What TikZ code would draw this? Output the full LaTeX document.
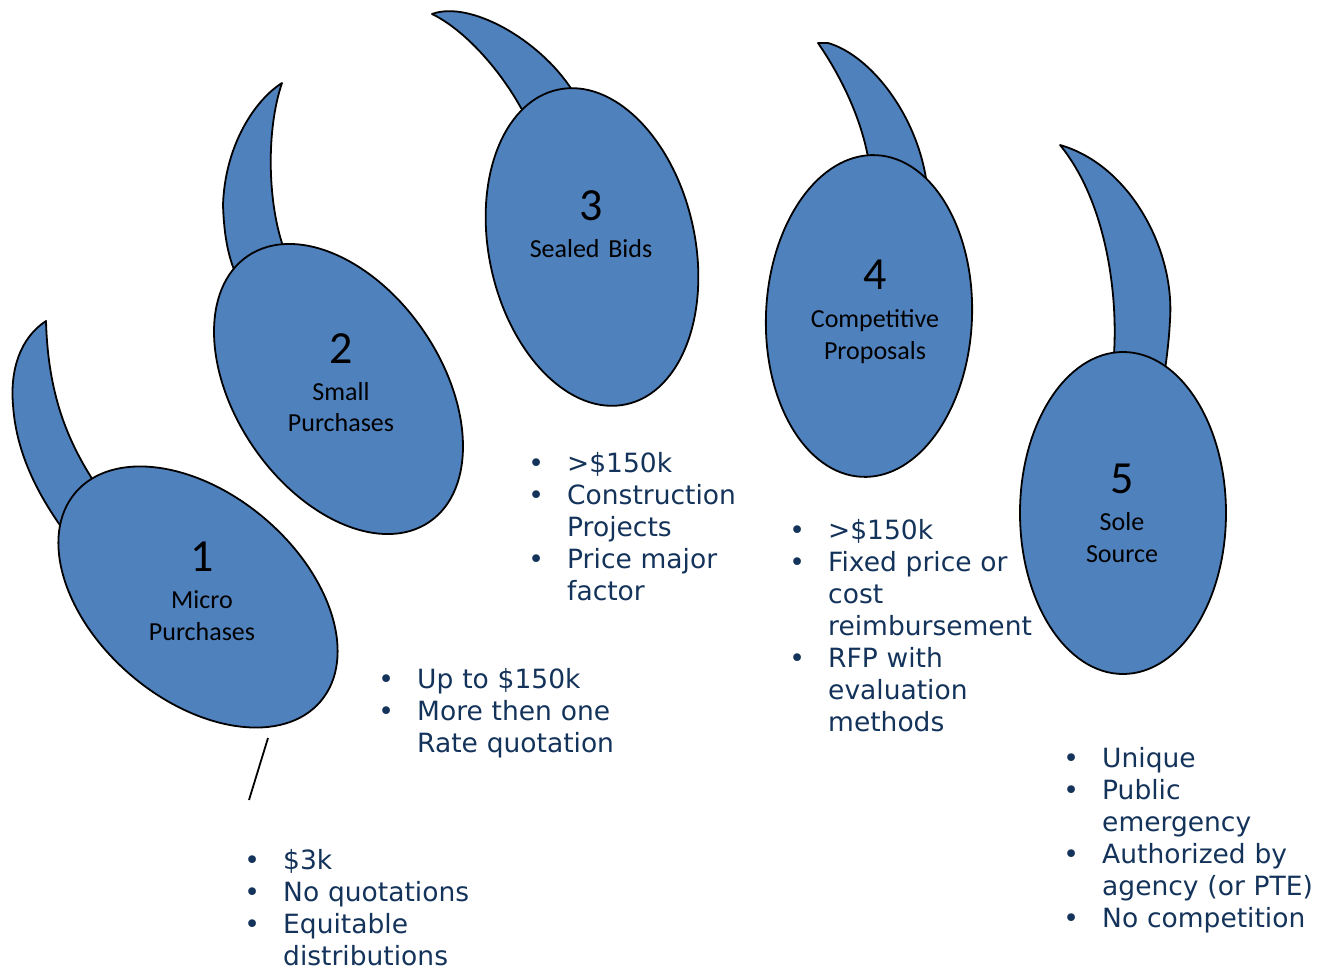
\documentclass[tikz,border=0pt]{standalone}
\usepackage{fontspec}
\newfontfamily\vfont{DejaVu Sans}
\newfontfamily\cfont{Carlito}
\usetikzlibrary{shapes.geometric}
\definecolor{blobblue}{HTML}{4F81BD}
\definecolor{navy}{HTML}{14335A}
\newcommand\bu{\makebox[31pt][l]{\makebox[0pt]{\textbullet}}}
\newcommand\cont{\hspace*{31pt}}
\begin{document}
\begin{tikzpicture}[x=1pt,y=-1pt,
  blob/.style={ellipse, draw=black, line width=1.8pt, fill=blobblue, minimum width=322pt, minimum height=206pt, inner sep=0pt},
  horn/.style={draw=black, line width=1.8pt, fill=blobblue, line join=round},
  numtxt/.style={font=\cfont\fontsize{46}{46}\selectfont, inner sep=0pt, anchor=base},
  lbltxt/.style={font=\cfont\fontsize{26}{32}\selectfont, text width=250pt, align=center, inner sep=0pt, anchor=base},
  list/.style={font=\vfont\fontsize{26.5}{32}\selectfont, text=navy, text width=320pt, align=left, inner sep=0pt, anchor=base west},
  tick/.style={draw=black, line width=1.8pt}]
\useasboundingbox (0,0) rectangle (1318,968);

% horns
\draw[horn] (46,321) .. controls (20,338) and (10,370) .. (13,405) .. controls (16,450) and (35,490) .. (62,528) -- (110,520) -- (91,477) .. controls (68,440) and (48,395) .. (46,321) -- cycle;
\draw[horn] (282,83) .. controls (255,100) and (225,145) .. (223,205) .. controls (224,235) and (228,255) .. (235,272) -- (300,300) -- (282,243) .. controls (268,200) and (266,130) .. (282,83) -- cycle;
\draw[horn] (432,14) .. controls (470,0) and (540,40) .. (572,90) -- (560,150) -- (521,108) .. controls (500,70) and (465,30) .. (432,14) -- cycle;
\draw[horn] (818,43) -- (828,43) .. controls (870,55) and (918,115) .. (927,185) -- (880,230) -- (868,157) .. controls (860,115) and (840,75) .. (818,43) -- cycle;
\draw[horn] (1060,145) .. controls (1130,165) and (1175,250) .. (1170,320) .. controls (1169,340) and (1167,355) .. (1165,370) -- (1130,400) -- (1114,354) .. controls (1118,290) and (1105,200) .. (1060,145) -- cycle;

% ellipses
\node[blob, rotate=-40.4] (e1) at (198,597) {};
\node[blob, rotate=-55.6] (e2) at (338.5,389) {};
\node[blob, rotate=-77.7] (e3) at (592,247) {};
\node[blob, rotate=-92.5] (e4) at (869,316) {};
\node[blob, rotate=-90] (e5) at (1123,513) {};

% labels
\node[numtxt] (n1) at (202,571) {1};
\node[lbltxt] (t1) at (202,608) {Micro\\Purchases};
\node[numtxt] (n2) at (341,363) {2};
\node[lbltxt] (t2) at (341,400) {Small\\Purchases};
\node[numtxt] (n3) at (591,221) {3};
\node[lbltxt] (t3) at (591,258) {Sealed Bids};
\node[numtxt] (n4) at (875,290) {4};
\node[lbltxt] (t4) at (875,328) {Competitive\\Proposals};
\node[numtxt] (n5) at (1122,493) {5};
\node[lbltxt] (t5) at (1122,530) {Sole\\Source};

% tick line
\coordinate (k1) at (268,738);
\coordinate (k2) at (249,800);
\draw[tick] (k1) -- (k2);

% bullet lists
\node[list] (l1) at (252,869) {\bu\$3k\\\bu No quotations\\\bu Equitable\\\cont distributions};
\node[list] (l2) at (386,688) {\bu Up to \$150k\\\bu More then one\\\cont Rate quotation};
\node[list] (l3) at (536,472) {\bu >\$150k\\\bu Construction\\\cont Projects\\\bu Price major\\\cont factor};
\node[list] (l4) at (797,539) {\bu >\$150k\\\bu Fixed price or\\\cont cost\\\cont reimbursement\\\bu RFP with\\\cont evaluation\\\cont methods};
\node[list] (l5) at (1071,767) {\bu Unique\\\bu Public\\\cont emergency\\\bu Authorized by\\\cont agency (or PTE)\\\bu No competition};
\end{tikzpicture}
\end{document}
